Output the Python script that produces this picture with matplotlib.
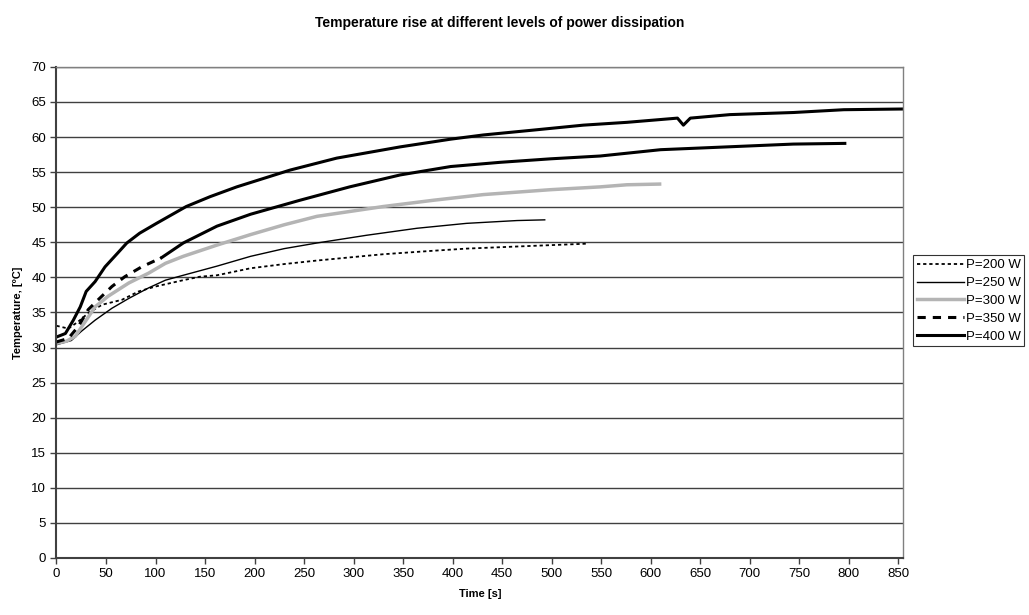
import numpy as np
import matplotlib
matplotlib.use("Agg")
import matplotlib.pyplot as plt

plt.rcParams['font.family'] = ['Liberation Sans', 'DejaVu Sans']

# ── Data ────────────────────────────────────────────────
t_200 = [0, 12, 22, 32, 46, 66, 83, 100, 128, 145, 162, 196, 230, 263, 300,
         330, 381, 414, 465, 500, 535]
T_200 = [33.1, 32.7, 33.7, 34.9, 36.1, 36.8, 38.0, 38.7, 39.6, 40.1, 40.3,
         41.3, 41.9, 42.4, 42.9, 43.3, 43.8, 44.1, 44.4, 44.6, 44.8]

t_250 = [0, 15, 25, 39, 56, 73, 93, 110, 128, 162, 196, 230, 263, 313, 364,
         414, 465, 493]
T_250 = [30.4, 31.0, 32.3, 33.9, 35.6, 37.0, 38.5, 39.6, 40.3, 41.6, 43.0,
         44.1, 44.9, 46.0, 47.0, 47.7, 48.1, 48.2]

t_300 = [0, 10, 19, 29, 39, 52, 73, 93, 110, 128, 162, 196, 230, 263, 330,
         381, 431, 499, 549, 576, 609]
T_300 = [30.6, 30.9, 31.6, 33.7, 35.8, 37.3, 39.2, 40.6, 42.0, 43.0, 44.6,
         46.1, 47.5, 48.7, 50.1, 51.0, 51.8, 52.5, 52.9, 53.2, 53.3]

t_350 = [0, 12, 22, 32, 42, 56, 69, 86, 106, 128, 162, 196, 246, 296, 347,
         398, 448, 499, 549, 610, 677, 744, 796]
T_350 = [30.8, 31.3, 33.0, 35.4, 36.8, 38.7, 40.1, 41.5, 42.8, 44.9, 47.3,
         49.0, 51.0, 52.9, 54.6, 55.8, 56.4, 56.9, 57.3, 58.2, 58.6, 59.0, 59.1]

t_400 = [0, 9, 17, 24, 30, 39, 49, 62, 71, 84, 101, 131, 155, 182, 209, 236,
         283, 347, 398, 431, 482, 532, 576, 627, 633, 640, 680, 744, 795, 854]
T_400 = [31.5, 32.0, 33.9, 35.8, 38.0, 39.4, 41.5, 43.5, 44.9, 46.3, 47.7,
         50.1, 51.5, 52.9, 54.1, 55.3, 57.0, 58.6, 59.7, 60.3, 61.0, 61.7,
         62.1, 62.7, 61.7, 62.7, 63.2, 63.5, 63.9, 64.0]

labels = ["P=200 W", "P=250 W", "P=300 W", "P=350 W", "P=400 W"]

# ── Figure ──────────────────────────────────────────────
fig = plt.figure(figsize=(10.29, 6.15), dpi=100)
ax = fig.add_axes([0.0549, 0.0927, 0.8229, 0.7985])

ax.plot(t_200, T_200, color='black', lw=1.3, ls=(0, (1.8, 1.6)), label=labels[0])
ax.plot(t_250, T_250, color='black', lw=1.0, label=labels[1])
ax.plot(t_300, T_300, color='#b4b4b4', lw=2.5, label=labels[2])

# dashes only show on the steep start in the original, so split it there
n_dash = 9
ax.plot(t_350[:n_dash], T_350[:n_dash], color='black', lw=2.2,
        ls=(0, (2.7, 2.3)), label=labels[3])
ax.plot(t_350[n_dash - 1:], T_350[n_dash - 1:], color='black', lw=2.2)
ax.plot(t_400, T_400, color='black', lw=2.2, label=labels[4])

ax.set_xlim(0, 855)
ax.set_ylim(0, 70)
ax.set_xticks(np.arange(0, 851, 50))
ax.set_yticks(np.arange(0, 71, 5))
ax.tick_params(direction='out', length=4, width=1, colors='#404040',
               labelsize=9.5, labelcolor='black')
ax.grid(axis='y', color='#404040', lw=1)
ax.set_axisbelow(True)

for side in ['left', 'bottom']:
    ax.spines[side].set_color('#404040')
    ax.spines[side].set_linewidth(1.5)
for side in ['right', 'top']:
    ax.spines[side].set_color('#808080')
    ax.spines[side].set_linewidth(1)

ax.set_xlabel("Time [s]", fontsize=8, fontweight='bold', labelpad=6)
ax.set_ylabel("Temperature, [ºC]", fontsize=8, fontweight='bold', labelpad=6)

fig.text(0.486, 0.963, "Temperature rise at different levels of power dissipation",
         ha='center', va='center', fontsize=10, fontweight='bold')

leg = ax.legend(loc='upper left', bbox_to_anchor=(0.887, 0.585),
                bbox_transform=fig.transFigure, fontsize=9.5, frameon=True,
                fancybox=False, edgecolor='black', handlelength=3.6,
                handletextpad=0.1, borderpad=0.3, labelspacing=0.42,
                borderaxespad=0)
leg.get_frame().set_linewidth(0.8)

fig.savefig("out.png", dpi=100)
